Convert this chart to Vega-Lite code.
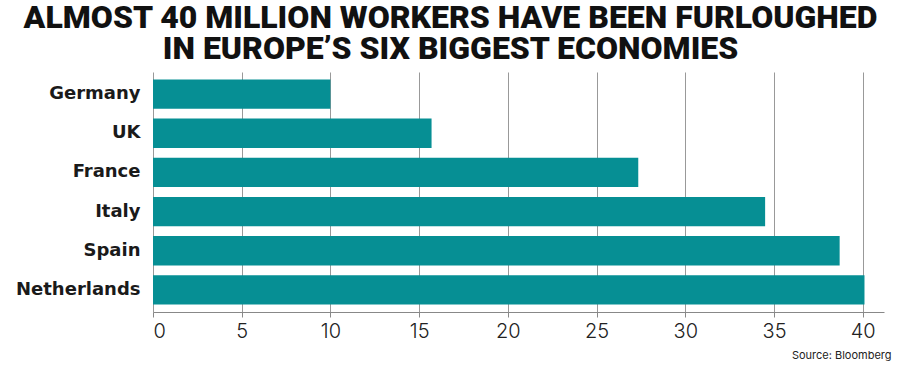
{
  "$schema": "https://vega.github.io/schema/vega-lite/v6.json",
  "autosize": {"type": "none"},
  "width": 731,
  "height": 240,
  "padding": {"left": 153, "top": 72, "right": 16, "bottom": 54},
  "background": "#ffffff",
  "title": {
    "text": ["ALMOST 40 MILLION WORKERS HAVE BEEN FURLOUGHED", "IN EUROPE’S SIX BIGGEST ECONOMIES"],
    "font": "Roboto",
    "fontSize": 32,
    "fontWeight": 900,
    "color": "#111111",
    "anchor": "middle",
    "frame": "group",
    "dx": -68,
    "lineHeight": 31,
    "baseline": "top",
    "offset": 6
  },
  "data": {
    "values": [
      {"country": "Germany", "workers": 10.0},
      {"country": "UK", "workers": 15.7},
      {"country": "France", "workers": 27.35},
      {"country": "Italy", "workers": 34.5},
      {"country": "Spain", "workers": 38.7},
      {"country": "Netherlands", "workers": 40.1}
    ]
  },
  "mark": {"type": "bar", "color": "#068f94"},
  "encoding": {
    "y": {
      "field": "country",
      "type": "nominal",
      "sort": null,
      "scale": {"paddingInner": 0.25, "paddingOuter": 0.19},
      "axis": {
        "title": null,
        "domain": false,
        "ticks": false,
        "labelPadding": 13,
        "labelFont": "DejaVu Sans",
        "labelFontSize": 18,
        "labelFontWeight": "bold",
        "labelColor": "#1a1a1a"
      }
    },
    "x": {
      "field": "workers",
      "type": "quantitative",
      "scale": {"domain": [0, 41.2], "nice": false},
      "axis": {
        "values": [0, 5, 10, 15, 20, 25, 30, 35, 40],
        "title": "Source: Bloomberg",
        "titleFont": "Inter",
        "titleFontSize": 11,
        "titleFontWeight": "normal",
        "titleColor": "#222222",
        "titleAlign": "right",
        "titleBaseline": "alphabetic",
        "titleX": 738,
        "titleY": 46,
        "grid": true,
        "gridColor": "#999999",
        "gridWidth": 1,
        "domainColor": "#888888",
        "tickColor": "#888888",
        "tickSize": 5,
        "labelPadding": 4,
        "labelFont": "Inter",
        "labelFontSize": 20,
        "labelFontWeight": 300,
        "labelColor": "#222222"
      }
    }
  },
  "config": {"view": {"stroke": null}}
}
